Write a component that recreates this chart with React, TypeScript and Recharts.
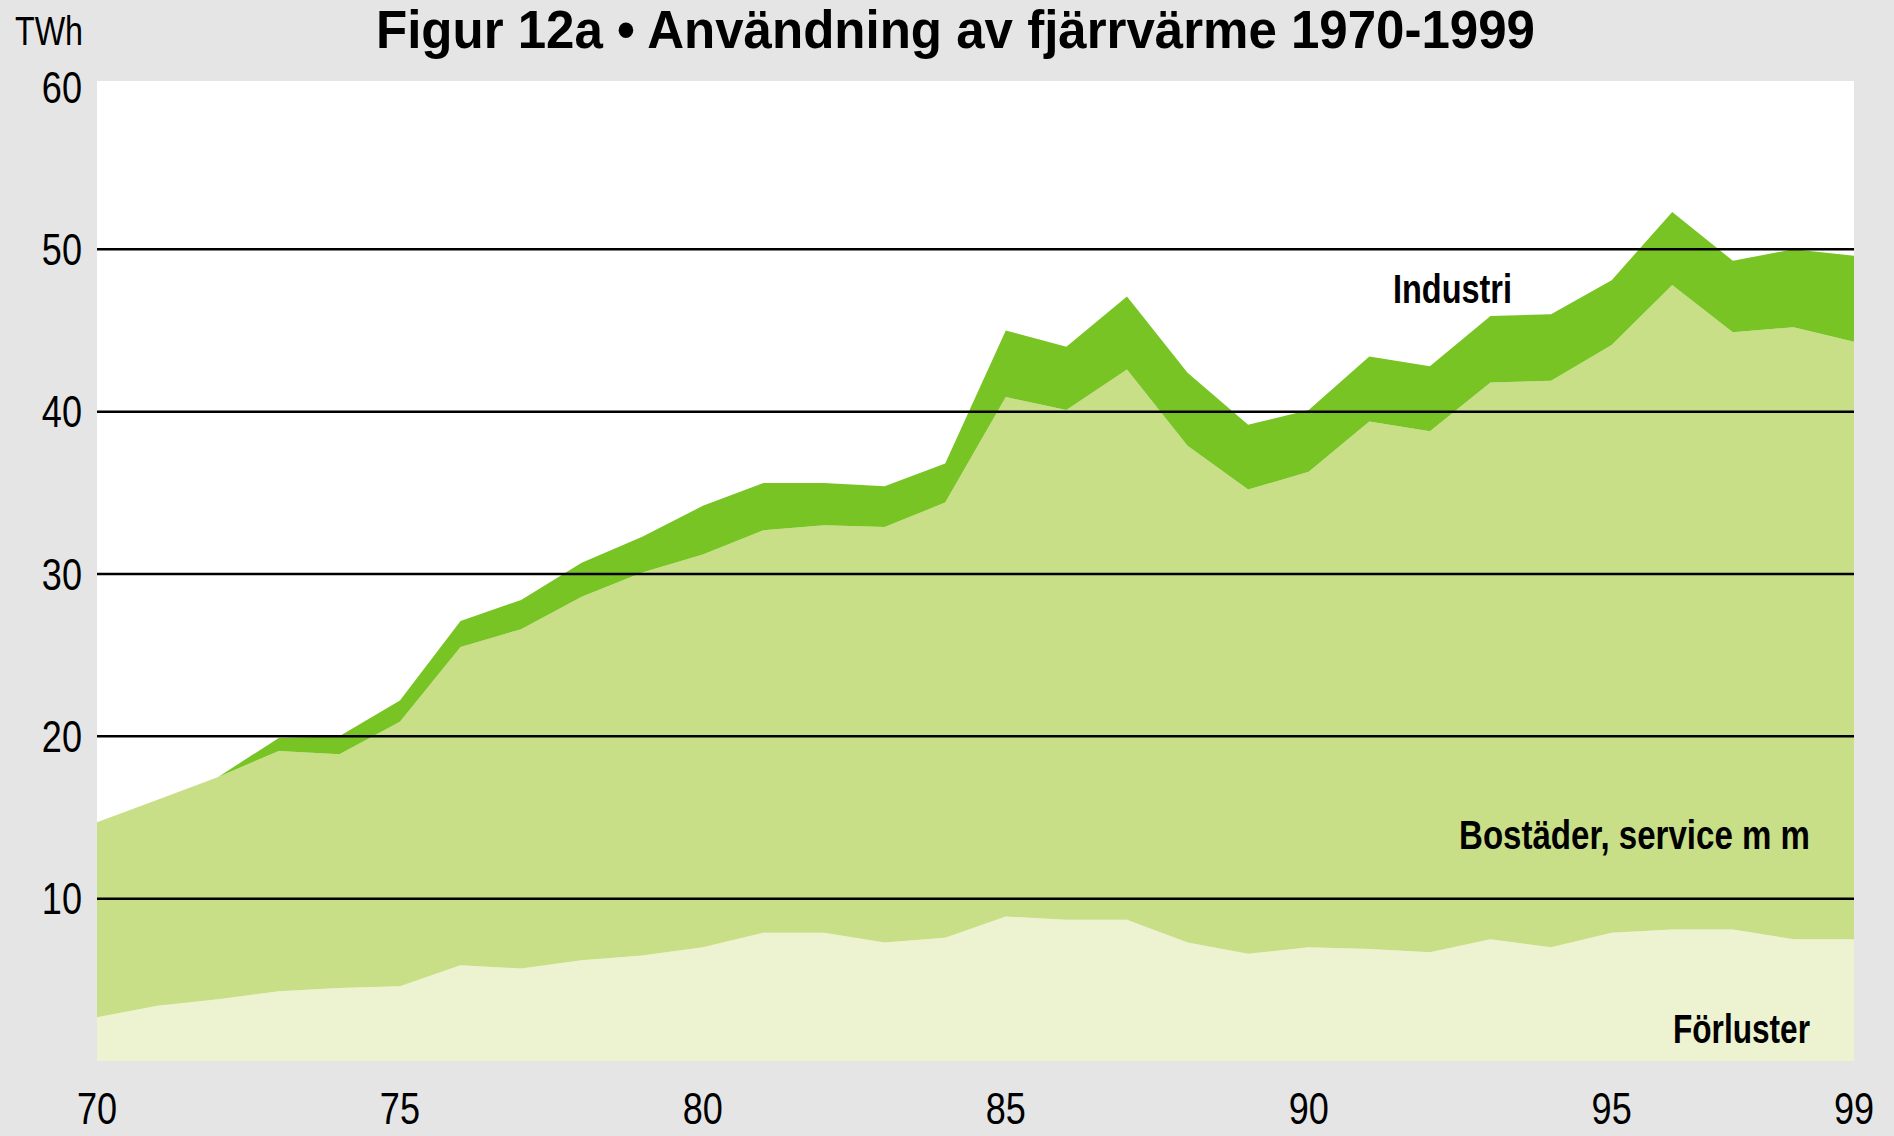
import { AreaChart, Area, XAxis, YAxis, CartesianGrid, ReferenceLine } from "recharts";

const years = [
  1970, 1971, 1972, 1973, 1974, 1975, 1976, 1977, 1978, 1979,
  1980, 1981, 1982, 1983, 1984, 1985, 1986, 1987, 1988, 1989,
  1990, 1991, 1992, 1993, 1994, 1995, 1996, 1997, 1998, 1999,
];

// TWh per segment (stacked bottom to top)
const forluster = [
  2.7, 3.4, 3.8, 4.3, 4.5, 4.6, 5.9, 5.7, 6.2, 6.5,
  7.0, 7.9, 7.9, 7.3, 7.6, 8.9, 8.7, 8.7, 7.3, 6.6,
  7.0, 6.9, 6.7, 7.5, 7.0, 7.9, 8.1, 8.1, 7.5, 7.5,
];
const bostader = [
  12.0, 12.7, 13.7, 14.8, 14.4, 16.3, 19.6, 20.9, 22.4, 23.6,
  24.2, 24.8, 25.1, 25.6, 26.8, 32.0, 31.4, 33.9, 30.6, 28.6,
  29.3, 32.5, 32.1, 34.3, 34.9, 36.2, 39.7, 36.8, 37.7, 36.8,
];
const industri = [
  0, 0, 0, 0.8, 1.1, 1.3, 1.6, 1.8, 2.1, 2.2,
  3.0, 2.9, 2.6, 2.5, 2.4, 4.1, 3.9, 4.5, 4.5, 4.0,
  3.8, 4.0, 4.0, 4.1, 4.1, 4.0, 4.5, 4.4, 4.8, 5.3,
];

const xTicks = [1970, 1975, 1980, 1985, 1990, 1995, 1999];
const yTicks = [10, 20, 30, 40, 50, 60];
const gridValues = [10, 20, 30, 40, 50];

const data = years.map((year, i) => ({
  year,
  forluster: forluster[i],
  bostader: bostader[i],
  industri: industri[i],
}));

const font = "'Liberation Sans', sans-serif";

// narrow numerals, like the condensed face of the original
function XTick(props: any) {
  const { x, y, payload } = props;
  return (
    <text
      transform={`translate(${x},${y}) scale(0.82,1)`}
      textAnchor="middle"
      dy="0.71em"
      fontSize={44}
      fontFamily={font}
      fill="#000"
    >
      {String(payload.value).slice(2)}
    </text>
  );
}

function YTick(props: any) {
  const { x, y, payload } = props;
  return (
    <text
      transform={`translate(${x},${y}) scale(0.82,1)`}
      textAnchor="end"
      dy="0.355em"
      fontSize={44}
      fontFamily={font}
      fill="#000"
    >
      {payload.value}
    </text>
  );
}

export default function App() {
  return (
    <div
      style={{
        position: "absolute",
        left: 0,
        top: 0,
        width: 1894,
        height: 1136,
        background: "#e5e5e5",
        fontFamily: font,
      }}
    >
      <AreaChart
        width={1894}
        height={1136}
        data={data}
        margin={{ top: 81, right: 40, bottom: 15, left: 17 }}
      >
        <CartesianGrid fill="#ffffff" horizontal={false} vertical={false} />
        <XAxis
          dataKey="year"
          type="number"
          domain={[1970, 1999]}
          ticks={xTicks}
          axisLine={false}
          tickLine={false}
          tickSize={0}
          tickMargin={32}
          height={60}
          tick={<XTick />}
        />
        <YAxis
          type="number"
          domain={[0, 60.37]}
          ticks={yTicks}
          axisLine={false}
          tickLine={false}
          tickSize={0}
          tickMargin={15}
          width={80}
          tick={<YTick />}
        />
        <Area
          type="linear"
          dataKey="forluster"
          stackId="1"
          stroke="none"
          fill="#edf3d1"
          fillOpacity={1}
          isAnimationActive={false}
        />
        <Area
          type="linear"
          dataKey="bostader"
          stackId="1"
          stroke="none"
          fill="#c8df87"
          fillOpacity={1}
          isAnimationActive={false}
        />
        <Area
          type="linear"
          dataKey="industri"
          stackId="1"
          stroke="none"
          fill="#78c424"
          fillOpacity={1}
          isAnimationActive={false}
        />
        {gridValues.map((v) => (
          <ReferenceLine key={v} y={v} stroke="#000" strokeWidth={2.5} />
        ))}
      </AreaChart>
      <svg
        width={1894}
        height={1136}
        style={{ position: "absolute", left: 0, top: 0, pointerEvents: "none" }}
      >
        <text x={15} y={45} fontSize={40} fontFamily={font} fill="#000" textLength={68} lengthAdjust="spacingAndGlyphs">
          TWh
        </text>
        <text
          x={376}
          y={48}
          fontSize={54}
          fontWeight="bold"
          fontFamily={font}
          fill="#000"
          textLength={1159}
          lengthAdjust="spacingAndGlyphs"
        >
          Figur 12a • Användning av fjärrvärme 1970-1999
        </text>
        <text x={1393} y={303} fontSize={40} fontWeight="bold" fontFamily={font} fill="#000" textLength={119} lengthAdjust="spacingAndGlyphs">
          Industri
        </text>
        <text x={1459} y={849} fontSize={40} fontWeight="bold" fontFamily={font} fill="#000" textLength={351} lengthAdjust="spacingAndGlyphs">
          Bostäder, service m m
        </text>
        <text x={1673} y={1043} fontSize={40} fontWeight="bold" fontFamily={font} fill="#000" textLength={137} lengthAdjust="spacingAndGlyphs">
          Förluster
        </text>
      </svg>
    </div>
  );
}
